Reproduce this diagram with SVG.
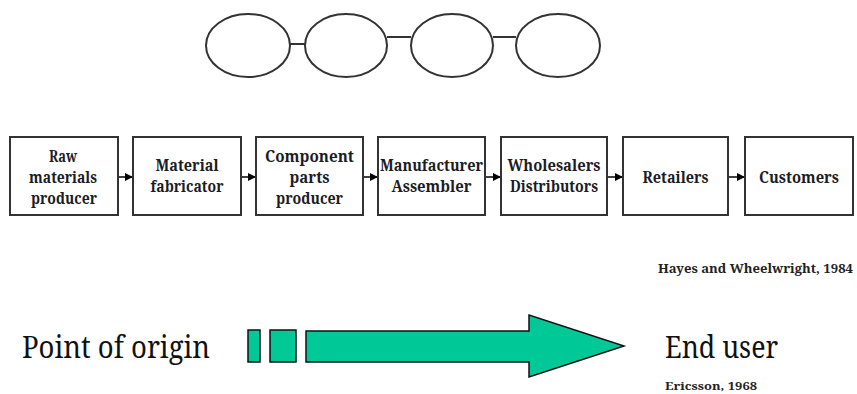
<svg xmlns="http://www.w3.org/2000/svg" width="857" height="394" viewBox="0 0 857 394">
<style>
.ell{fill:#fff;stroke:#333;stroke-width:2}
.lnk{stroke:#333;stroke-width:2;fill:none}
.box{fill:#fff;stroke:#333;stroke-width:2}
text{font-family:"Noto Serif","DejaVu Serif",serif}
.bt{font-size:16px;font-weight:bold;fill:#1c1c24;text-anchor:middle}
.con{stroke:#000;stroke-width:1.5;fill:none}
.big{font-size:31px;fill:#111}
.cite{font-weight:bold;fill:#222}
.gr{fill:#00C896;stroke:#111;stroke-width:1.5}
</style>
<defs>
<marker id="ah" viewBox="0 0 8 8" refX="8" refY="4" markerWidth="8" markerHeight="8" markerUnits="userSpaceOnUse" orient="auto">
<path d="M0,0 L8,4 L0,8 Z" fill="#000"/>
</marker>
</defs>
<g id="chain">
<g id="ellipse-links">
<line class="lnk" x1="290" y1="44" x2="305" y2="44"/>
<line class="lnk" x1="387" y1="37" x2="411" y2="37"/>
<line class="lnk" x1="493" y1="37" x2="516" y2="37"/>
</g>
<g id="e1"><ellipse class="ell" cx="248" cy="45.5" rx="42" ry="31.5"/></g>
<g id="e2"><ellipse class="ell" cx="346" cy="45.5" rx="41" ry="31.5"/></g>
<g id="e3"><ellipse class="ell" cx="452" cy="45.5" rx="41" ry="31.5"/></g>
<g id="e4"><ellipse class="ell" cx="558" cy="45.5" rx="42" ry="31.5"/></g>
</g>
<g id="connectors">
<line class="con" x1="118" y1="177" x2="133" y2="177" marker-end="url(#ah)"/>
<line class="con" x1="241" y1="177" x2="256" y2="177" marker-end="url(#ah)"/>
<line class="con" x1="363" y1="177" x2="378" y2="177" marker-end="url(#ah)"/>
<line class="con" x1="485" y1="177" x2="501" y2="177" marker-end="url(#ah)"/>
<line class="con" x1="607" y1="177" x2="623" y2="177" marker-end="url(#ah)"/>
<line class="con" x1="728" y1="177" x2="745" y2="177" marker-end="url(#ah)"/>
</g>
<g id="raw">
<rect class="box" x="10" y="137" width="108" height="78"/>
<text class="bt" x="63" y="162" textLength="28" lengthAdjust="spacingAndGlyphs">Raw</text>
<text class="bt" x="63" y="183" textLength="68" lengthAdjust="spacingAndGlyphs">materials</text>
<text class="bt" x="64" y="204" textLength="66" lengthAdjust="spacingAndGlyphs">producer</text>
</g>
<g id="fabricator">
<rect class="box" x="133" y="137" width="108" height="78"/>
<text class="bt" x="187" y="171" textLength="63" lengthAdjust="spacingAndGlyphs">Material</text>
<text class="bt" x="187" y="192" textLength="73" lengthAdjust="spacingAndGlyphs">fabricator</text>
</g>
<g id="component">
<rect class="box" x="256" y="137" width="107" height="78"/>
<text class="bt" x="309.5" y="162" textLength="89" lengthAdjust="spacingAndGlyphs">Component</text>
<text class="bt" x="309.5" y="183" textLength="40" lengthAdjust="spacingAndGlyphs">parts</text>
<text class="bt" x="309.5" y="204" textLength="67" lengthAdjust="spacingAndGlyphs">producer</text>
</g>
<g id="manufacturer">
<rect class="box" x="378" y="137" width="107" height="78"/>
<text class="bt" x="431.5" y="171" textLength="103" lengthAdjust="spacingAndGlyphs">Manufacturer</text>
<text class="bt" x="431.5" y="192" textLength="80" lengthAdjust="spacingAndGlyphs">Assembler</text>
</g>
<g id="wholesalers">
<rect class="box" x="501" y="137" width="106" height="78"/>
<text class="bt" x="554" y="171" textLength="93" lengthAdjust="spacingAndGlyphs">Wholesalers</text>
<text class="bt" x="554" y="192" textLength="88" lengthAdjust="spacingAndGlyphs">Distributors</text>
</g>
<g id="retailers">
<rect class="box" x="623" y="137" width="105" height="78"/>
<text class="bt" x="675.5" y="183" textLength="66" lengthAdjust="spacingAndGlyphs">Retailers</text>
</g>
<g id="customers">
<rect class="box" x="745" y="137" width="108" height="78"/>
<text class="bt" x="799" y="183" textLength="80" lengthAdjust="spacingAndGlyphs">Customers</text>
</g>
<text class="cite" x="658" y="273" font-size="12" textLength="195" lengthAdjust="spacingAndGlyphs">Hayes and Wheelwright, 1984</text>
<g id="flow">
<text class="big" x="22" y="358" textLength="188" lengthAdjust="spacingAndGlyphs">Point of origin</text>
<rect class="gr" x="248" y="330" width="12" height="32"/>
<rect class="gr" x="270" y="330" width="26" height="32"/>
<polygon class="gr" points="306,331 529,331 529,315 624,346 529,377 529,362 306,362"/>
<text class="big" x="665" y="358" textLength="113" lengthAdjust="spacingAndGlyphs">End user</text>
<text class="cite" x="665" y="390" font-size="11" textLength="92" lengthAdjust="spacingAndGlyphs">Ericsson, 1968</text>
</g>
</svg>
